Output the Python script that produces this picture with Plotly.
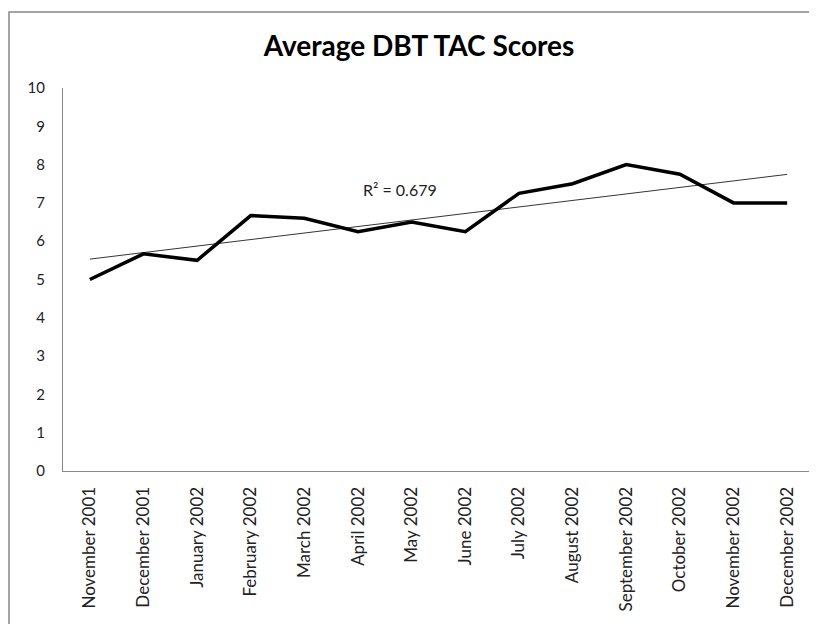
import numpy as np
import plotly.graph_objects as go

months = ["November 2001", "December 2001", "January 2002", "February 2002",
          "March 2002", "April 2002", "May 2002", "June 2002", "July 2002",
          "August 2002", "September 2002", "October 2002", "November 2002",
          "December 2002"]
scores = [5.0, 5.67, 5.5, 6.67, 6.6, 6.25, 6.5, 6.25, 7.25, 7.5, 8.0, 7.75, 7.0, 7.0]
y_ticks = list(range(0, 11))
r2_label = "R² = 0.679"
title = "Average DBT TAC Scores"

idx = np.arange(1, len(scores) + 1)
slope, intercept = np.polyfit(idx, scores, 1)
trend = list(slope * idx + intercept)

W, H = 809, 616
L, R, T, B = 55, 3, 80, 153

fig = go.Figure()
fig.add_trace(go.Scatter(x=months, y=scores, mode="lines",
                         line=dict(color="black", width=3.5), showlegend=False))
fig.add_trace(go.Scatter(x=months, y=trend, mode="lines",
                         line=dict(color="black", width=0.8), showlegend=False))

fig.add_annotation(x=5.79, y=7.36, xref="x", yref="y", text=r2_label,
                   showarrow=False, font=dict(family="Lato", size=16, color="#222"))

fig.add_shape(type="rect", xref="paper", yref="paper",
              x0=-0.0719, y0=-0.6, x1=1.05, y1=1.1984,
              line=dict(color="#878787", width=1.5), fillcolor="rgba(0,0,0,0)")

fig.update_layout(
    width=W, height=H,
    margin=dict(l=L, r=R, t=T, b=B),
    paper_bgcolor="white", plot_bgcolor="white",
    title=dict(text="<b>" + title + "</b>", x=411 / W, xref="container", xanchor="center",
               y=1 - 38 / H, yref="container", yanchor="middle",
               font=dict(family="Lato", size=28, color="black")),
    font=dict(family="Lato", size=15, color="#222"),
)
fig.update_xaxes(type="category", showline=True, linecolor="#888", linewidth=1,
                 showgrid=False, tickangle=-90, ticks="", ticklabelstandoff=8,
                 range=[-0.5, len(months) - 0.5], automargin=False,
                 tickfont=dict(family="Lato", size=17, color="#222"))
fig.update_yaxes(range=[0, 10], tickvals=y_ticks, showline=True, linecolor="#888",
                 linewidth=1, showgrid=False, zeroline=False, ticks="",
                 ticklabelstandoff=14, automargin=False,
                 tickfont=dict(family="Lato", size=15, color="#222"))

fig.write_html("out.html")
